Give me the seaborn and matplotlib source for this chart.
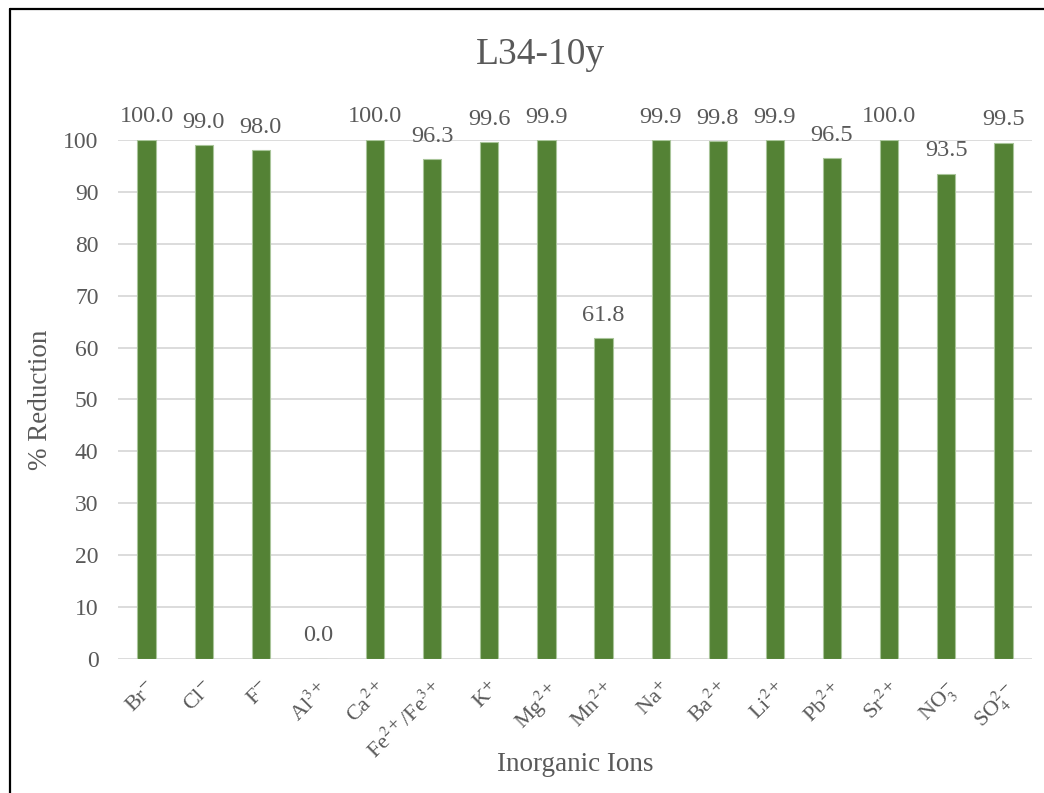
import matplotlib
matplotlib.use("Agg")
import matplotlib.pyplot as plt
from matplotlib.lines import Line2D
import seaborn as sns
import pandas as pd

# Inorganic ions and their percent reduction
ions = [
    r"Br$^{-}$", r"Cl$^{-}$", r"F$^{-}$", r"Al$^{3+}$", r"Ca$^{2+}$",
    r"Fe$^{2+}$/Fe$^{3+}$", r"K$^{+}$", r"Mg$^{2+}$", r"Mn$^{2+}$", r"Na$^{+}$",
    r"Ba$^{2+}$", r"Li$^{2+}$", r"Pb$^{2+}$", r"Sr$^{2+}$", r"NO$_{3}^{-}$",
    r"SO$_{4}^{2-}$",
]
reduction = [100.0, 99.0, 98.0, 0.0, 100.0, 96.3, 99.6, 99.9, 61.8, 99.9,
             99.8, 99.9, 96.5, 100.0, 93.5, 99.5]
y_ticks = [0, 10, 20, 30, 40, 50, 60, 70, 80, 90, 100]

title = "L34-10y"
x_label = "Inorganic Ions"
y_label = "% Reduction"

sns.set_theme(style="white")
plt.rcParams["font.family"] = ["Liberation Serif", "DejaVu Serif"]
plt.rcParams["mathtext.fontset"] = "stix"

text_color = "#595959"
bar_color = "#548235"
grid_color = "#D9D9D9"

df = pd.DataFrame({"ion": ions, "reduction": reduction})

fig = plt.figure(figsize=(10.44, 7.93), dpi=100)
ax = fig.add_axes([0.113, 0.169, 0.8755, 0.6545])

sns.barplot(data=df, x="ion", y="reduction", color=bar_color, saturation=1,
            width=0.32, edgecolor="#A9C59A", linewidth=0.8, ax=ax, zorder=3)

ax.set_ylim(0, 100)
ax.set_xlim(-0.5, len(ions) - 0.5)
ax.set_yticks(y_ticks)
ax.yaxis.grid(True, color=grid_color, linewidth=1.3, zorder=0)
ax.xaxis.grid(False)
for s in ax.spines.values():
    s.set_visible(False)
ax.tick_params(axis="both", length=0, colors=text_color, labelsize=17)
ax.tick_params(axis="y", pad=14)
ax.tick_params(axis="x", pad=14)
for lbl in ax.get_xticklabels():
    lbl.set_rotation(45)
    lbl.set_ha("right")
    lbl.set_rotation_mode("anchor")
    lbl.set_fontsize(16)

for container in ax.containers:
    ax.bar_label(container, fmt="%.1f", padding=9, fontsize=17.5,
                 color=text_color, clip_on=False)

ax.set_xlabel(x_label, fontsize=19.5, color=text_color)
ax.xaxis.set_label_coords(0.5, -0.204)
ax.xaxis.label.set_va("center")
ax.set_ylabel(y_label, fontsize=19.5, color=text_color, labelpad=7)
fig.text(0.5175, 0.931, title, ha="center", va="center", fontsize=27,
         color=text_color)

# Frame lines along the left and top edges of the figure
fig.add_artist(Line2D([0.0096, 0.0096], [0, 0.9887], transform=fig.transFigure,
                      color="black", linewidth=1.6))
fig.add_artist(Line2D([0.0096, 1.0], [0.9887, 0.9887], transform=fig.transFigure,
                      color="black", linewidth=1.6))

fig.savefig("out.png", dpi=100, facecolor="white")
